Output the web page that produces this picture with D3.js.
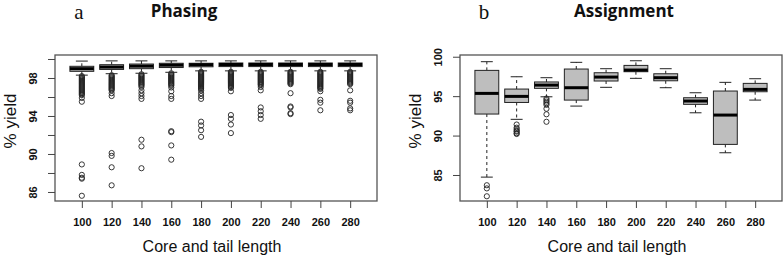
<!DOCTYPE html>
<html>
<head>
<meta charset="utf-8">
<script src="https://cdn.jsdelivr.net/npm/d3@7"></script>
<style>
  body { margin: 0; background: #fff; }
  svg { display: block; }
</style>
</head>
<body>
<svg id="chart" width="783" height="258"></svg>
<script>
// x categories (core and tail length)
var lengths = [100, 120, 140, 160, 180, 200, 220, 240, 260, 280];

// panel a - phasing: whisker low, q1, median, q3, whisker high
var phasingLow  = [98.3, 98.45, 98.5, 98.6, 98.75, 98.75, 98.75, 98.75, 98.75, 98.75];
var phasingQ1   = [98.7, 98.9, 98.98, 99.1, 99.18, 99.2, 99.2, 99.2, 99.2, 99.2];
var phasingMed  = [98.98, 99.15, 99.25, 99.35, 99.4, 99.42, 99.42, 99.42, 99.42, 99.42];
var phasingQ3   = [99.23, 99.4, 99.47, 99.55, 99.55, 99.58, 99.58, 99.58, 99.58, 99.58];
var phasingHigh = [99.78, 99.8, 99.8, 99.8, 99.8, 99.8, 99.8, 99.8, 99.8, 99.8];
var phasingOut = [
  [98.2, 98.1, 98.0, 97.9, 97.8, 97.7, 97.6, 97.5, 97.4, 97.3, 97.2, 97.1, 97.0, 96.9, 96.8, 96.7, 96.6, 96.5, 96.4, 96.3, 96.2, 95.9, 95.5, 88.9, 87.8, 87.5, 87.4, 85.6],
  [98.3, 98.2, 98.1, 98.0, 97.9, 97.8, 97.7, 97.6, 97.5, 97.4, 97.3, 97.2, 97.1, 97.0, 96.9, 96.8, 96.7, 96.4, 96.1, 90.1, 89.8, 88.6, 86.7],
  [98.4, 98.3, 98.2, 98.1, 98.0, 97.9, 97.8, 97.7, 97.6, 97.5, 97.4, 97.3, 97.2, 97.05, 96.7, 96.4, 96.1, 95.8, 91.5, 90.8, 88.5],
  [98.5, 98.4, 98.3, 98.2, 98.1, 98.0, 97.9, 97.8, 97.7, 97.6, 97.5, 97.4, 97.3, 97.2, 97.0, 96.6, 96.1, 95.8, 92.4, 92.3, 90.9, 89.4],
  [98.65, 98.55, 98.45, 98.35, 98.25, 98.15, 98.05, 97.95, 97.85, 97.75, 97.65, 97.55, 97.45, 97.35, 97.25, 97.15, 97.05, 96.95, 96.85, 96.7, 96.4, 96.1, 95.8, 93.4, 93.0, 92.5, 91.8],
  [98.65, 98.55, 98.45, 98.35, 98.25, 98.15, 98.05, 97.95, 97.85, 97.75, 97.65, 97.55, 97.45, 97.35, 97.25, 97.15, 97.05, 96.95, 96.6, 94.1, 93.7, 93.1, 92.2],
  [98.65, 98.55, 98.45, 98.35, 98.25, 98.15, 98.05, 97.95, 97.85, 97.75, 97.65, 97.55, 97.45, 97.35, 97.25, 97.05, 96.7, 94.9, 94.5, 94.1, 93.7],
  [98.65, 98.55, 98.45, 98.35, 98.25, 98.15, 98.05, 97.95, 97.85, 97.75, 97.65, 97.55, 97.45, 97.35, 96.4, 95.0, 94.9, 94.3, 94.2],
  [98.65, 98.55, 98.45, 98.35, 98.25, 98.15, 98.05, 97.95, 97.85, 97.75, 97.65, 97.55, 97.45, 97.35, 97.25, 97.15, 97.05, 96.95, 96.85, 96.6, 95.7, 95.4, 94.6],
  [98.65, 98.55, 98.45, 98.35, 98.25, 98.15, 98.05, 97.95, 97.85, 97.75, 97.65, 97.55, 97.45, 97.35, 96.7, 95.6, 95.4, 94.8, 94.6]
];
var phasingTicks = [86, 88, 90, 92, 94, 96, 98, 100];
var phasingTickLabels = [86, 90, 94, 98];

// panel b - assignment
var assignLow  = [84.73, 92.06, 94.92, 93.74, 96.12, 97.26, 96.07, 92.89, 87.82, 94.5];
var assignQ1   = [92.73, 94.2, 95.99, 94.5, 96.92, 98.1, 96.95, 93.96, 88.88, 95.56];
var assignMed  = [95.35, 94.97, 96.4, 96.07, 97.42, 98.31, 97.34, 94.38, 92.6, 95.86];
var assignQ3   = [98.27, 95.9, 96.8, 98.44, 97.97, 98.9, 97.84, 94.8, 95.65, 96.62];
var assignHigh = [99.37, 97.46, 97.34, 99.29, 98.48, 99.49, 98.48, 95.43, 96.75, 97.21];
var assignOut = [
  [83.7, 83.3, 82.3],
  [91.4, 91.0, 90.8, 90.6, 90.5, 90.3, 90.2],
  [94.7, 94.5, 94.3, 94.1, 93.9, 93.4, 92.7, 91.75],
  [], [], [], [], [], [], []
];
var assignTicks = [85, 90, 95, 100];
var assignTickLabels = [85, 90, 95, 100];

var svg = d3.select("#chart");

function drawPanel(left, yDomain, low, q1, med, q3, high, outs, ticks, tickLabels, letter, title) {
  var top = 55, bottom = 201, width = 322;
  var g = svg.append("g").attr("transform", "translate(" + left + ",0)");

  var x = d3.scalePoint().domain(lengths).range([0, width]).padding(0.9);
  var y = d3.scaleLinear().domain(yDomain).range([bottom, top]);
  var bw = x.step() * 0.8;
  var cap = bw / 2;

  var boxes = g.selectAll("g.box")
    .data(lengths.map(function (d, i) {
      return { len: d, low: low[i], q1: q1[i], med: med[i], q3: q3[i], high: high[i], out: outs[i] };
    }))
    .join("g")
    .attr("class", "box")
    .attr("transform", function (d) { return "translate(" + x(d.len) + ",0)"; });

  // whiskers (dashed) and caps
  boxes.append("line")
    .attr("y1", function (d) { return y(d.q3); }).attr("y2", function (d) { return y(d.high); })
    .attr("stroke", "#222").attr("stroke-width", 1).attr("stroke-dasharray", "3,3");
  boxes.append("line")
    .attr("y1", function (d) { return y(d.q1); }).attr("y2", function (d) { return y(d.low); })
    .attr("stroke", "#222").attr("stroke-width", 1).attr("stroke-dasharray", "3,3");
  boxes.append("line")
    .attr("x1", -cap / 2).attr("x2", cap / 2)
    .attr("y1", function (d) { return y(d.high); }).attr("y2", function (d) { return y(d.high); })
    .attr("stroke", "#222").attr("stroke-width", 1);
  boxes.append("line")
    .attr("x1", -cap / 2).attr("x2", cap / 2)
    .attr("y1", function (d) { return y(d.low); }).attr("y2", function (d) { return y(d.low); })
    .attr("stroke", "#222").attr("stroke-width", 1);

  boxes.append("rect")
    .attr("x", -bw / 2).attr("width", bw)
    .attr("y", function (d) { return y(d.q3); })
    .attr("height", function (d) { return y(d.q1) - y(d.q3); })
    .attr("fill", "#bebebe").attr("stroke", "#222").attr("stroke-width", 1);
  boxes.append("line")
    .attr("x1", -bw / 2).attr("x2", bw / 2)
    .attr("y1", function (d) { return y(d.med); }).attr("y2", function (d) { return y(d.med); })
    .attr("stroke", "#000").attr("stroke-width", 3);

  boxes.selectAll("circle")
    .data(function (d) { return d.out; })
    .join("circle")
    .attr("cx", 0).attr("cy", function (d) { return y(d); })
    .attr("r", 2.6)
    .attr("fill", "none").attr("stroke", "#222").attr("stroke-width", 0.9);

  // frame
  g.append("rect")
    .attr("x", 0).attr("y", top).attr("width", width).attr("height", bottom - top)
    .attr("fill", "none").attr("stroke", "#555").attr("stroke-width", 1.3);

  // x axis
  var xAxis = g.append("g").attr("transform", "translate(0," + bottom + ")")
    .call(d3.axisBottom(x).tickSize(7).tickPadding(10));
  xAxis.select(".domain").remove();
  xAxis.selectAll("line").attr("stroke", "#444");
  xAxis.selectAll("text")
    .attr("font-family", "Liberation Sans, Arial, sans-serif")
    .attr("font-size", 11).attr("font-weight", "bold").attr("fill", "#111");

  // y axis, labels rotated as in R
  var yAxis = g.append("g")
    .call(d3.axisLeft(y).tickValues(ticks).tickSize(7)
      .tickFormat(function (d) { return tickLabels.indexOf(d) >= 0 ? d : ""; }));
  yAxis.select(".domain").remove();
  yAxis.selectAll("line").attr("stroke", "#444");
  yAxis.selectAll("text")
    .attr("x", 0).attr("dy", 0)
    .attr("transform", "translate(-18,0) rotate(-90)")
    .attr("text-anchor", "middle")
    .attr("font-family", "Liberation Sans, Arial, sans-serif")
    .attr("font-size", 11).attr("font-weight", "bold").attr("fill", "#111");

  // axis titles
  g.append("text")
    .attr("x", width / 2 - 4).attr("y", 252)
    .attr("text-anchor", "middle")
    .attr("font-family", "Liberation Sans, Arial, sans-serif")
    .attr("font-size", 16).attr("fill", "#111")
    .text("Core and tail length");
  g.append("text")
    .attr("transform", "translate(-39,121) rotate(-90)")
    .attr("text-anchor", "middle")
    .attr("font-family", "Liberation Sans, Arial, sans-serif")
    .attr("font-size", 17).attr("fill", "#111")
    .text("% yield");

  // panel letter and title
  g.append("text")
    .attr("x", 24).attr("y", 19)
    .attr("text-anchor", "middle")
    .attr("font-family", "Liberation Serif, Times New Roman, serif")
    .attr("font-size", 21).attr("fill", "#111")
    .text(letter);
  g.append("text")
    .attr("x", title == "Phasing" ? 129 : 164).attr("y", 17)
    .attr("text-anchor", "middle")
    .attr("font-family", "Open Sans, sans-serif")
    .attr("font-size", 17).attr("font-weight", "bold").attr("fill", "#111")
    .text(title);
}

drawPanel(55, [85.05, 100.42], phasingLow, phasingQ1, phasingMed, phasingQ3, phasingHigh,
  phasingOut, phasingTicks, phasingTickLabels, "a", "Phasing");
drawPanel(460, [81.7, 100.22], assignLow, assignQ1, assignMed, assignQ3, assignHigh,
  assignOut, assignTicks, assignTickLabels, "b", "Assignment");
</script>
</body>
</html>
